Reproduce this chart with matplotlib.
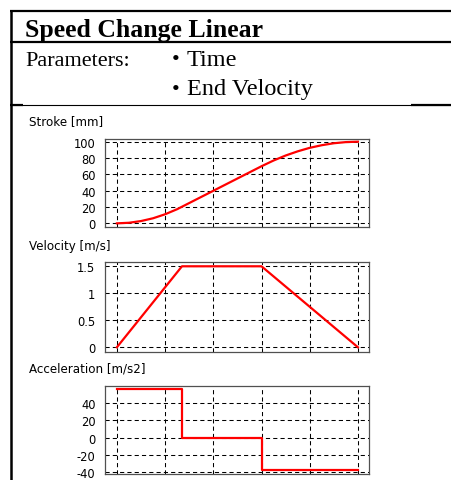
import matplotlib
matplotlib.use("Agg")
import matplotlib.pyplot as plt
from matplotlib.lines import Line2D

# Motion profile: speed change with linear ramps
time_s = [0.000, 0.005, 0.010, 0.015, 0.020, 0.025, 0.030, 0.035, 0.040, 0.045,
          0.050, 0.055, 0.060, 0.065, 0.070, 0.075, 0.080, 0.085, 0.090, 0.095, 0.100]
stroke_mm = [0.0, 0.7, 2.8, 6.2, 11.1, 17.3, 24.8, 32.3, 39.8, 47.3,
             54.8, 62.3, 69.8, 76.8, 82.9, 88.0, 92.3, 95.5, 97.9, 99.3, 99.8]

vel_time = [0.000, 0.027, 0.060, 0.100]
velocity = [0.0, 1.5, 1.5, 0.0]

acc_time = [0.000, 0.027, 0.027, 0.060, 0.060, 0.100]
acceleration = [55.6, 55.6, 0.0, 0.0, -37.5, -37.5]

grid_times = [0.00, 0.02, 0.04, 0.06, 0.08, 0.10]
stroke_ticks = [0, 20, 40, 60, 80, 100]
stroke_labels = ["0", "20", "40", "60", "80", "100"]
vel_ticks = [0, 0.5, 1, 1.5]
vel_labels = ["0", "0.5", "1", "1.5"]
acc_ticks = [-40, -20, 0, 20, 40]
acc_labels = ["-40", "-20", "0", "20", "40"]

W, H = 451, 481
fig = plt.figure(figsize=(W / 100, H / 100), dpi=100)
fig.patch.set_facecolor("white")

def px_line(x0, y0, x1, y1, lw):
    fig.add_artist(Line2D([x0 / W, x1 / W], [1 - y0 / H, 1 - y1 / H],
                          transform=fig.transFigure, color="black", lw=lw,
                          solid_capstyle="butt"))

# Table frame around the header
px_line(10, 12, W, 12, 1.6)
px_line(10.5, 12, 10.5, H, 1.8)
px_line(10, 43, W, 43, 1.6)
px_line(10, 106, W, 106, 0.8)
px_line(10, 105.5, 23, 105.5, 1.6)
px_line(411, 105.5, W, 105.5, 1.6)

serif = "Liberation Serif"
fig.text(25 / W, 1 - 37.5 / H, "Speed Change Linear", family=serif, weight="bold",
         fontsize=18.5, va="baseline", ha="left")
fig.text(25 / W, 1 - 65.5 / H, "Parameters:", family=serif, fontsize=16,
         va="baseline", ha="left")
fig.text(172 / W, 1 - 65.5 / H, "\u2022", family=serif, fontsize=16,
         va="baseline", ha="left")
fig.text(187 / W, 1 - 65.5 / H, "Time", family=serif, fontsize=17.5,
         va="baseline", ha="left")
fig.text(172 / W, 1 - 95 / H, "\u2022", family=serif, fontsize=16,
         va="baseline", ha="left")
fig.text(187 / W, 1 - 95 / H, "End Velocity", family=serif, fontsize=17.5,
         va="baseline", ha="left")

sans = "DejaVu Sans"
title_size = 8.6
tick_size = 8.3

def make_axes(top, bottom, ylim, ticks, labels, title, title_y):
    left, right = 104.5, 369.5
    ax = fig.add_axes([left / W, 1 - bottom / H, (right - left) / W, (bottom - top) / H])
    ax.set_xlim(-0.00514, 0.1048)
    ax.set_ylim(*ylim)
    ax.set_xticks(grid_times)
    ax.set_xticklabels([])
    ax.set_yticks(ticks)
    ax.set_yticklabels(labels, fontsize=tick_size, family=sans)
    ax.tick_params(length=0, pad=6.5)
    ax.grid(True, color="black", linestyle=(0, (4, 3)), linewidth=0.75)
    for s in ax.spines.values():
        s.set_color("#505050")
        s.set_linewidth(0.9)
    fig.text(29 / W, 1 - title_y / H, title, family=sans, fontsize=title_size,
             va="center", ha="left")
    return ax

ax1 = make_axes(139.5, 227.7, (-4.1, 103.7), stroke_ticks, stroke_labels,
                "Stroke [mm]", 121.5)
ax1.plot(time_s, stroke_mm, color="red", lw=1.6)

ax2 = make_axes(262.7, 353.3, (-0.093, 1.585), vel_ticks, vel_labels,
                "Velocity [m/s]", 246.5)
ax2.plot(vel_time, velocity, color="red", lw=1.6)

ax3 = make_axes(386.5, 474.5, (-41.2, 59.8), acc_ticks, acc_labels,
                "Acceleration [m/s2]", 369.5)
ax3.plot(acc_time, acceleration, color="red", lw=1.6)

fig.savefig("out.png", dpi=100, facecolor="white")
